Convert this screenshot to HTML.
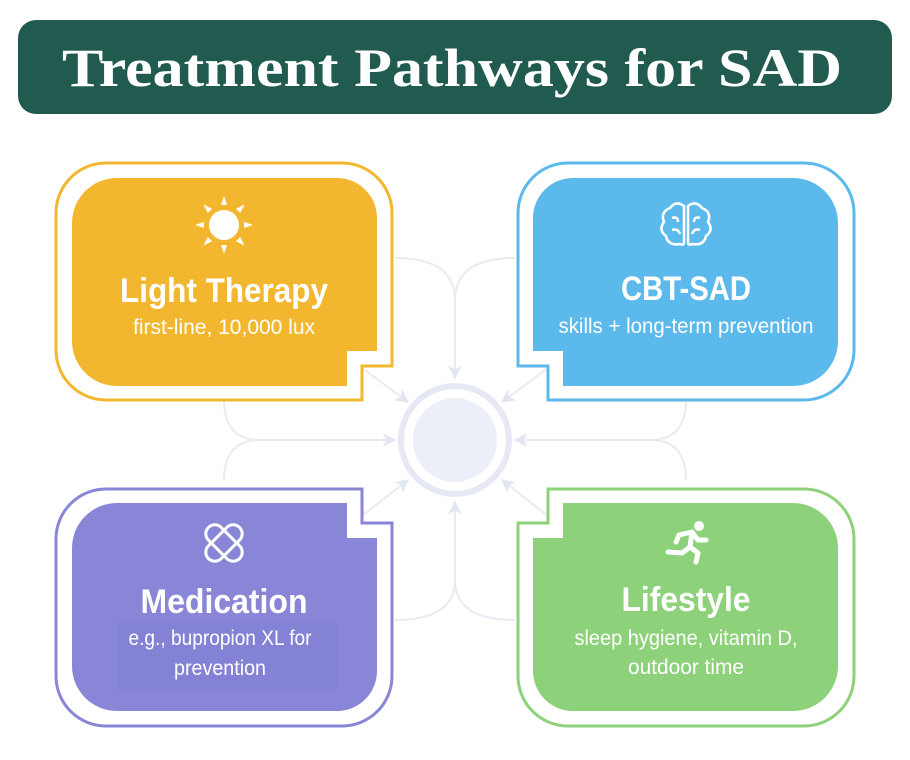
<!DOCTYPE html>
<html><head><meta charset="utf-8"><style>
html,body{margin:0;padding:0;background:#fff;}
svg{display:block}
.t{font-family:"Liberation Sans Narrow","Liberation Sans",sans-serif;font-weight:bold;fill:#fff;text-anchor:middle;font-size:34px}
.s{font-family:"Liberation Sans Narrow","Liberation Sans",sans-serif;fill:#fff;text-anchor:middle;font-size:21px}
</style></head><body>
<svg width="910" height="760" viewBox="0 0 910 760" xmlns="http://www.w3.org/2000/svg">
<defs>
<path id="outer" d="M106,163 H342 A50,50 0 0 1 392,213 V366 H362 V400 H106 A50,50 0 0 1 56,350 V213 A50,50 0 0 1 106,163 Z"/>
<path id="inner" d="M117,178 H337 A40,40 0 0 1 377,218 V351 H347 V386 H117 A45,45 0 0 1 72,341 V223 A45,45 0 0 1 117,178 Z"/>
<marker id="ar" viewBox="0 0 10 10" refX="9" refY="5" markerWidth="7" markerHeight="7" orient="auto"><path d="M0,0 L10,5 L0,10 L3,5 Z" fill="#e2e6f1"/></marker>
</defs>
<rect x="18" y="20" width="874" height="94" rx="18" fill="#215b4f"/>
<text x="452" y="86" font-family="'Liberation Serif',serif" font-weight="bold" font-size="54" fill="#fff" text-anchor="middle" textLength="780" lengthAdjust="spacingAndGlyphs">Treatment Pathways for SAD</text>

<g fill="none" stroke="#e8ebf4" stroke-width="2">
<path d="M395,258 Q455,258 455,300 M515,258 Q455,258 455,300"/>
<path d="M455,300 V378" marker-end="url(#ar)"/>
<path d="M395,620 Q455,620 455,580 M515,620 Q455,620 455,580"/>
<path d="M455,580 V502" marker-end="url(#ar)"/>
<path d="M224,400 Q224,440 260,440 M224,480 Q224,440 260,440"/>
<path d="M260,440 H395" marker-end="url(#ar)"/>
<path d="M686,400 Q686,440 650,440 M686,480 Q686,440 650,440"/>
<path d="M650,440 H515" marker-end="url(#ar)"/>
<path d="M362,368 L408,402" marker-end="url(#ar)"/>
<path d="M548,368 L502,402" marker-end="url(#ar)"/>
<path d="M362,516 L408,480" marker-end="url(#ar)"/>
<path d="M548,516 L502,480" marker-end="url(#ar)"/>
</g>
<circle cx="455" cy="440" r="54" fill="#fff" stroke="#e6e9f3" stroke-width="6"/>
<circle cx="455" cy="440" r="42" fill="#eceff8"/>

<use href="#outer" fill="#fff" stroke="#f2b72e" stroke-width="3"/>
<use href="#inner" fill="#f2b72e"/>
<g transform="translate(910,0) scale(-1,1)">
<use href="#outer" fill="#fff" stroke="#5cb9eb" stroke-width="3"/>
<use href="#inner" fill="#5cb9eb"/>
</g>
<g transform="translate(0,889) scale(1,-1)">
<use href="#outer" fill="#fff" stroke="#8986d8" stroke-width="3"/>
<use href="#inner" fill="#8986d8"/>
</g>
<g transform="translate(910,889) scale(-1,-1)">
<use href="#outer" fill="#fff" stroke="#8dd27a" stroke-width="3"/>
<use href="#inner" fill="#8dd27a"/>
</g>
<rect x="117" y="620" width="220" height="70" fill="#7f7dd0" opacity="0.5"/>

<g fill="#fff" transform="translate(224,225)">
<circle r="15"/>
<g id="ray"><path d="M-3,-20 L0,-29 L3,-20 Z"/></g>
<use href="#ray" transform="rotate(45)"/><use href="#ray" transform="rotate(90)"/><use href="#ray" transform="rotate(135)"/>
<use href="#ray" transform="rotate(180)"/><use href="#ray" transform="rotate(225)"/><use href="#ray" transform="rotate(270)"/><use href="#ray" transform="rotate(315)"/>
</g>
<g fill="none" stroke="#fff" stroke-width="2.5" transform="translate(686,224)">
<path d="M-2,-18 Q-10,-24 -16,-16 Q-26,-12 -22,-2 Q-28,6 -20,12 Q-18,22 -6,20 Q-2,22 -2,18 Z"/>
<path d="M2,-18 Q10,-24 16,-16 Q26,-12 22,-2 Q28,6 20,12 Q18,22 6,20 Q2,22 2,18 Z"/>
<path d="M-14,-6 Q-8,-8 -8,-2 M-14,6 Q-8,4 -6,10 M14,-6 Q8,-8 8,-2 M14,6 Q8,4 6,10"/>
</g>
<g fill="none" stroke="#fff" stroke-width="3" transform="translate(224,543)">
<rect x="-22" y="-9" width="44" height="18" rx="9" transform="rotate(-45)"/>
<rect x="-22" y="-9" width="44" height="18" rx="9" transform="rotate(45)"/>
</g>
<g fill="#fff" stroke="#fff" stroke-linecap="round" stroke-linejoin="round" transform="translate(686,543)">
<circle cx="13" cy="-17" r="5" stroke="none"/>
<path d="M-7,-8 L6,-11 L4,4 L12,10 L10,19 M4,4 L-4,10 L-18,9 M6,-11 L12,-3 L20,-3 M-7,-8 L-10,-1" fill="none" stroke-width="5"/>
</g>

<text class="t" x="224" y="302" textLength="208" lengthAdjust="spacingAndGlyphs">Light Therapy</text>
<text class="s" x="224" y="334" textLength="182" lengthAdjust="spacingAndGlyphs">first-line, 10,000 lux</text>
<text class="t" x="686" y="300" textLength="130" lengthAdjust="spacingAndGlyphs">CBT-SAD</text>
<text class="s" x="686" y="333" textLength="255" lengthAdjust="spacingAndGlyphs">skills + long-term prevention</text>
<text class="t" x="224" y="613" textLength="167" lengthAdjust="spacingAndGlyphs">Medication</text>
<text class="s" x="220" y="645" textLength="183" lengthAdjust="spacingAndGlyphs">e.g., bupropion XL for</text>
<text class="s" x="220" y="675" textLength="92" lengthAdjust="spacingAndGlyphs">prevention</text>
<text class="t" x="686" y="611" textLength="129" lengthAdjust="spacingAndGlyphs">Lifestyle</text>
<text class="s" x="686" y="645" textLength="223" lengthAdjust="spacingAndGlyphs">sleep hygiene, vitamin D,</text>
<text class="s" x="686" y="674" textLength="116" lengthAdjust="spacingAndGlyphs">outdoor time</text>
</svg>
</body></html>
